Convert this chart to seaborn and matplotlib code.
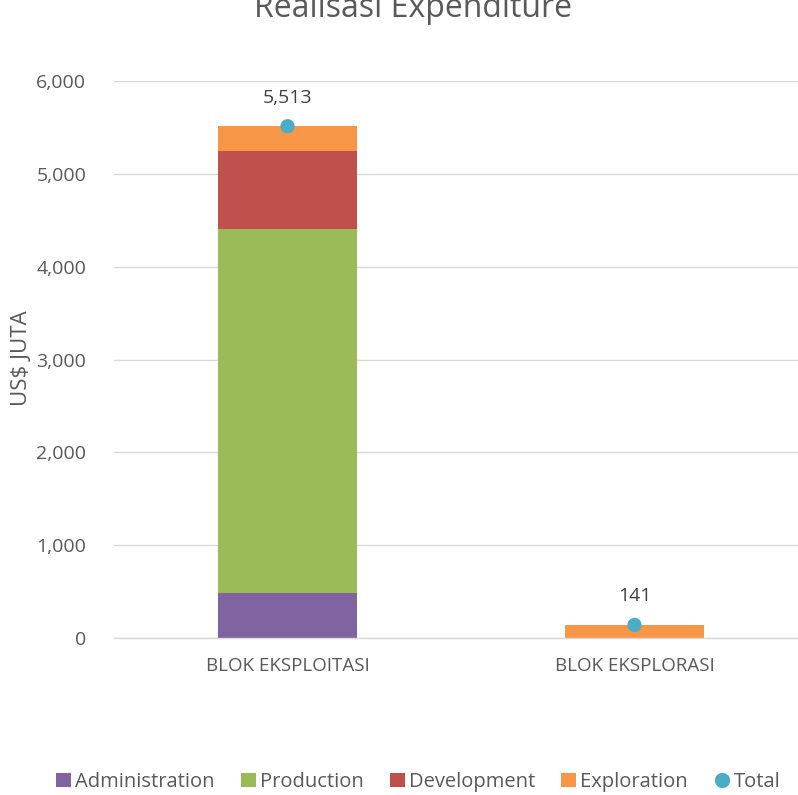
import numpy as np
import pandas as pd
import matplotlib.pyplot as plt
import seaborn as sns
from matplotlib.ticker import FuncFormatter
from matplotlib.lines import Line2D
from matplotlib.patches import Patch

sns.set_theme(style="white")
plt.rcParams["font.family"] = ["Open Sans", "DejaVu Sans"]

categories = ["BLOK EKSPLOITASI", "BLOK EKSPLORASI"]
series = ["Administration", "Production", "Development", "Exploration"]
administration = [485, 0]
production = [3922, 0]
development = [841, 0]
exploration = [265, 141]
totals = [5513, 141]

colors = {
    "Administration": "#8064a2",
    "Production": "#9bbb59",
    "Development": "#c0504d",
    "Exploration": "#f79646",
}
total_color = "#4bacc6"
text_color = "#595959"

df = pd.DataFrame({
    "blok": categories,
    "Administration": administration,
    "Production": production,
    "Development": development,
    "Exploration": exploration,
})
cum = df[series].cumsum(axis=1)

W, H = 798, 795
fig = plt.figure(figsize=(W / 100, H / 100), dpi=100)
# plot area runs a little past the right edge, like the original export
ax = fig.add_axes([114 / W, 1 - 638 / H, 694 / W, (638 - 81) / H])

# stacked bars: draw cumulative heights from the top layer down
for s in reversed(series):
    sns.barplot(x=df["blok"], y=cum[s], color=colors[s], width=0.4,
                saturation=1, linewidth=0, ax=ax, zorder=2)

sns.scatterplot(x=categories, y=totals, color=total_color, s=105,
                edgecolor="none", ax=ax, zorder=3)
for i, t in enumerate(totals):
    ax.annotate(f"{t:,}", (i, t), xytext=(0, 17), textcoords="offset points",
                ha="center", va="baseline", fontsize=14, color="#404040")

ax.set_ylim(0, 6000)
ax.set_xlim(-0.5, 1.5)
ax.set_yticks(np.arange(0, 6001, 1000))
ax.yaxis.set_major_formatter(FuncFormatter(lambda v, p: f"{int(v):,}"))
ax.grid(axis="y", color="#d9d9d9", linewidth=1, zorder=0)
ax.set_axisbelow(True)
for side in ["top", "right", "left"]:
    ax.spines[side].set_visible(False)
ax.spines["bottom"].set_color("#d9d9d9")
ax.spines["bottom"].set_linewidth(1)
ax.tick_params(axis="y", length=0, pad=20, labelsize=14, labelcolor=text_color)
ax.tick_params(axis="x", length=0, pad=14, labelsize=13.5, labelcolor=text_color)
ax.set_xlabel("")
ylab = ax.set_ylabel("US$ JUTA", fontsize=16, color=text_color)
ylab.set_verticalalignment("center")
ax.yaxis.set_label_coords((22 - 114) / 694, (638 - 358) / 557)

fig.text(413 / W, 1 - 17 / H, "Realisasi Expenditure", ha="center", va="baseline",
         fontsize=23, color=text_color)

handles = [Patch(facecolor=colors[s], edgecolor="none", label=s) for s in series]
handles.append(Line2D([], [], marker="o", linestyle="none", markersize=11,
                      markerfacecolor=total_color, markeredgecolor="none", label="Total"))
fig.legend(handles=handles, loc="center", bbox_to_anchor=(418 / W, 1 - 782 / H),
           ncol=5, frameon=False, fontsize=14.5, handlelength=0.75, handleheight=0.75,
           handletextpad=0.2, columnspacing=1.3, labelcolor=text_color,
           borderaxespad=0, borderpad=0)

fig.savefig("out.png", dpi=100)
